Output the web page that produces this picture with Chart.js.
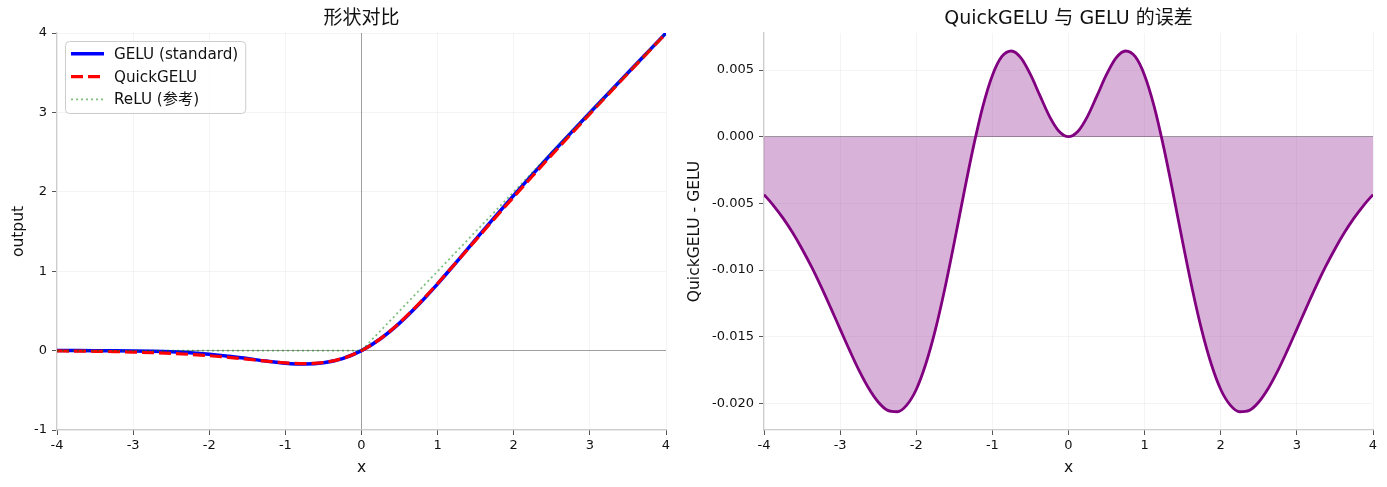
<!DOCTYPE html>
<html>
<head>
<meta charset="utf-8">
<script src="https://cdn.jsdelivr.net/npm/chart.js@4.4.1/dist/chart.umd.min.js"></script>
<style>
    html, body { margin: 0; padding: 0; background: #ffffff; }
    #wrap { position: relative; width: 1387px; height: 487px; overflow: hidden; }
    canvas { position: absolute; top: 0; }
    #shape-chart { left: 0; }
    #error-chart { left: 676px; }
</style>
</head>
<body>
<div id="wrap">
    <canvas id="shape-chart" width="676" height="487"></canvas>
    <canvas id="error-chart" width="711" height="487"></canvas>
</div>
<script>
"use strict";

// left panel: curves sampled every 0.25
const xValues = [-4, -3.75, -3.5, -3.25, -3, -2.75, -2.5, -2.25, -2, -1.75, -1.5, -1.25, -1, -0.75, -0.5, -0.25,
    0, 0.25, 0.5, 0.75, 1, 1.25, 1.5, 1.75, 2, 2.25, 2.5, 2.75, 3, 3.25, 3.5, 3.75, 4];

const geluValues = [-0.00007, -0.00022, -0.00062, -0.00157, -0.00364, -0.00772, -0.01509, -0.02720, -0.04539,
    -0.07020, -0.10043, -0.13229, -0.15880, -0.17004, -0.15428, -0.10032, 0,
    0.14968, 0.34572, 0.57996, 0.84120, 1.11771, 1.39957, 1.67980, 1.95461, 2.22280, 2.48491,
    2.74228, 2.99636, 3.24843, 3.49938, 3.74978, 3.99993];

const quickGeluValues = [-0.00441, -0.00633, -0.00903, -0.01282, -0.01807, -0.02527, -0.03499, -0.04783, -0.06434,
    -0.08471, -0.10834, -0.13307, -0.15421, -0.16361, -0.14961, -0.09880, 0,
    0.15120, 0.35039, 0.58639, 0.84579, 1.11693, 1.39166, 1.66529, 1.93566, 2.20217, 2.46501,
    2.72473, 2.98193, 3.23718, 3.49097, 3.74367, 3.99559];

const reluX = [-4, 0, 4];
const reluValues = [0, 0, 4];

// right panel: error sampled every 0.125
const errorX = [-4, -3.875, -3.75, -3.625, -3.5, -3.375, -3.25, -3.125, -3, -2.875, -2.75, -2.625, -2.5, -2.375,
    -2.25, -2.125, -2, -1.875, -1.75, -1.625, -1.5, -1.375, -1.25, -1.125, -1, -0.875, -0.75, -0.625, -0.5,
    -0.375, -0.25, -0.125, 0, 0.125, 0.25, 0.375, 0.5, 0.625, 0.75, 0.875, 1, 1.125, 1.25, 1.375, 1.5,
    1.625, 1.75, 1.875, 2, 2.125, 2.25, 2.375, 2.5, 2.625, 2.75, 2.875, 3, 3.125, 3.25, 3.375, 3.5,
    3.625, 3.75, 3.875, 4];

const errorValues = [-0.00434, -0.00516, -0.00611, -0.00719, -0.00842, -0.00977, -0.01125, -0.01282, -0.01443,
    -0.01603, -0.01755, -0.01887, -0.01990, -0.02053, -0.02063, -0.02013, -0.01896, -0.01705, -0.01451,
    -0.01140, -0.00791, -0.00427, -0.00078, 0.00228, 0.00460, 0.00602, 0.00643, 0.00591, 0.00467,
    0.00308, 0.00153, 0.00041, 0,
    0.00041, 0.00153, 0.00308, 0.00467, 0.00591, 0.00643, 0.00602, 0.00460, 0.00228, -0.00078,
    -0.00427, -0.00791, -0.01140, -0.01451, -0.01705, -0.01896, -0.02013, -0.02063, -0.02053, -0.01990,
    -0.01887, -0.01755, -0.01603, -0.01443, -0.01282, -0.01125, -0.00977, -0.00842, -0.00719, -0.00611,
    -0.00516, -0.00434];

const xTicks = [-4, -3, -2, -1, 0, 1, 2, 3, 4];
const shapeYTicks = [-1, 0, 1, 2, 3, 4];
const errorYTicks = [-0.020, -0.015, -0.010, -0.005, 0, 0.005];

const FONT = '"DejaVu Sans", "Noto Sans CJK SC", sans-serif';
const GRID = 'rgba(0,0,0,0.045)';
const ZERO = 'rgba(128,128,128,0.75)';

Chart.defaults.font.family = FONT;
Chart.defaults.color = '#111111';

function toPoints(xs, ys) {
    return xs.map((x, i) => ({x: x, y: ys[i]}));
}

function titlePlugin(text) {
    return {
        id: 'panelTitle',
        afterDraw(chart) {
            const ctx = chart.ctx;
            const area = chart.chartArea;
            ctx.save();
            ctx.font = '19px ' + FONT;
            ctx.fillStyle = '#111111';
            ctx.textAlign = 'center';
            ctx.textBaseline = 'middle';
            ctx.fillText(text, (area.left + area.right) / 2, 19);
            ctx.restore();
        }
    };
}

const legendPlugin = {
    id: 'insideLegend',
    afterDraw(chart) {
        const ctx = chart.ctx;
        const area = chart.chartArea;
        const items = chart.data.datasets;
        ctx.save();
        ctx.font = '15.2px ' + FONT;
        const textWidth = Math.max(...items.map((d) => ctx.measureText(d.label).width));
        const x0 = area.left + 8;
        const y0 = area.top + 8;
        const w = 49 + textWidth + 7;
        const h = 72;
        ctx.beginPath();
        ctx.roundRect(x0 + 0.5, y0 + 0.5, w, h, 4);
        ctx.fillStyle = 'rgba(255,255,255,0.8)';
        ctx.fill();
        ctx.strokeStyle = '#cccccc';
        ctx.lineWidth = 1;
        ctx.stroke();
        items.forEach((d, i) => {
            const cy = y0 + 12.8 + i * 22.8;
            ctx.beginPath();
            ctx.setLineDash(d.borderDash || []);
            ctx.strokeStyle = d.borderColor;
            ctx.lineWidth = d.borderWidth;
            ctx.moveTo(x0 + 6, cy);
            ctx.lineTo(x0 + 39, cy);
            ctx.stroke();
            ctx.setLineDash([]);
            ctx.fillStyle = '#111111';
            ctx.textBaseline = 'middle';
            ctx.textAlign = 'left';
            ctx.fillText(d.label, x0 + 49, cy + 1);
        });
        ctx.restore();
    }
};

function gridColor(zeroLine) {
    return (c) => (zeroLine && c.tick && c.tick.value === 0) ? ZERO : GRID;
}

function xScale(zeroLine) {
    return {
        type: 'linear',
        min: -4,
        max: 4,
        afterBuildTicks: (s) => { s.ticks = xTicks.map((v) => ({value: v})); },
        afterFit: (s) => { s.height = 57; },
        grid: {color: gridColor(zeroLine), lineWidth: 1, tickLength: 5, tickColor: '#555555', tickWidth: 1},
        border: {color: '#cccccc', width: 1.2},
        ticks: {font: {size: 13}, padding: 3, maxRotation: 0, autoSkip: false, color: '#111111'},
        title: {display: true, text: 'x', font: {size: 15.5}, padding: {top: 0, bottom: 10}, color: '#111111'}
    };
}

function yScale(min, max, ticks, width, label, format) {
    return {
        type: 'linear',
        min: min,
        max: max,
        afterBuildTicks: (s) => { s.ticks = ticks.map((v) => ({value: v})); },
        afterFit: (s) => { s.width = width; },
        grid: {color: gridColor(true), lineWidth: 1, tickLength: 5, tickColor: '#555555', tickWidth: 1},
        border: {color: '#cccccc', width: 1.2},
        ticks: {font: {size: 13}, padding: 5, autoSkip: false, color: '#111111', callback: format},
        title: {display: true, text: label, font: {size: 15.5}, padding: {top: 10, bottom: 0}, color: '#111111'}
    };
}

new Chart(document.getElementById('shape-chart'), {
    type: 'line',
    data: {
        datasets: [{
            label: 'GELU (standard)',
            data: toPoints(xValues, geluValues),
            borderColor: '#0000ff',
            borderWidth: 3.5,
            pointRadius: 0,
            cubicInterpolationMode: 'monotone',
            order: 3
        }, {
            label: 'QuickGELU',
            data: toPoints(xValues, quickGeluValues),
            borderColor: '#ff0000',
            borderWidth: 3.2,
            borderDash: [12, 5],
            pointRadius: 0,
            cubicInterpolationMode: 'monotone',
            order: 2
        }, {
            label: 'ReLU (参考)',
            data: toPoints(reluX, reluValues),
            borderColor: 'rgba(0,128,0,0.5)',
            borderWidth: 1.8,
            borderDash: [2, 3],
            pointRadius: 0,
            order: 1
        }]
    },
    options: {
        responsive: false,
        animation: false,
        events: [],
        layout: {padding: {top: 33, right: 10, bottom: 0, left: 0}},
        plugins: {legend: {display: false}, tooltip: {enabled: false}},
        scales: {
            x: xScale(true),
            y: yScale(-1, 4, shapeYTicks, 57, 'output', (v) => String(v))
        }
    },
    plugins: [titlePlugin('形状对比'), legendPlugin]
});

new Chart(document.getElementById('error-chart'), {
    type: 'line',
    data: {
        datasets: [{
            label: 'QuickGELU - GELU',
            data: toPoints(errorX, errorValues),
            borderColor: '#800080',
            borderWidth: 2.8,
            backgroundColor: 'rgba(128,0,128,0.3)',
            fill: 'origin',
            pointRadius: 0,
            cubicInterpolationMode: 'monotone'
        }]
    },
    options: {
        responsive: false,
        animation: false,
        events: [],
        layout: {padding: {top: 33, right: 14, bottom: 0, left: 0}},
        plugins: {legend: {display: false}, tooltip: {enabled: false}},
        scales: {
            x: xScale(false),
            y: yScale(-0.0220, 0.00778, errorYTicks, 88, 'QuickGELU - GELU', (v) => Number(v).toFixed(3))
        }
    },
    plugins: [titlePlugin('QuickGELU 与 GELU 的误差')]
});
</script>
</body>
</html>
